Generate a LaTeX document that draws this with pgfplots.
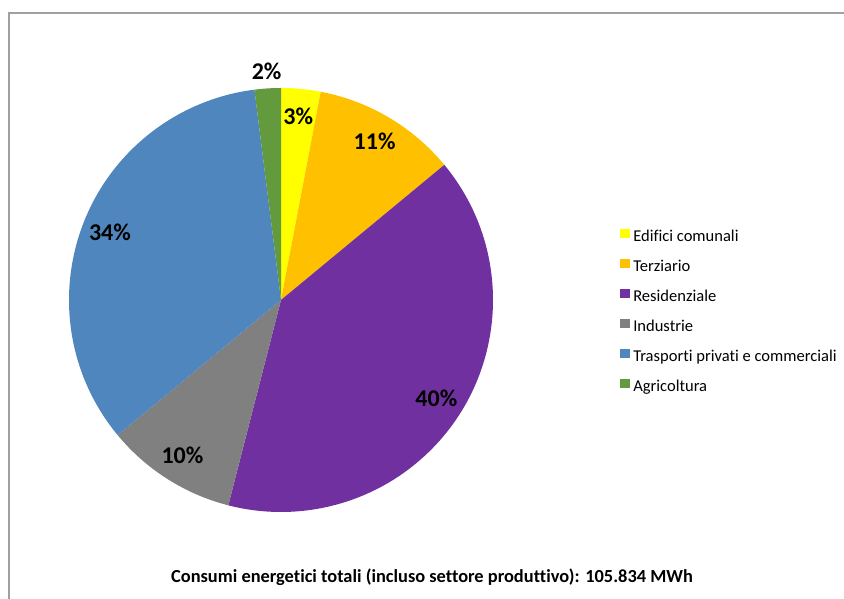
\documentclass[border=0pt]{standalone}
\usepackage{pgfplots}
\pgfplotsset{compat=1.18}
\usepackage{pgfplotstable}
\usepackage{fontspec}
\setmainfont{Carlito}[Ligatures=NoCommon]

% slice colours
\definecolor{c0}{HTML}{FFFF00}
\definecolor{c1}{HTML}{FFC000}
\definecolor{c2}{HTML}{7030A0}
\definecolor{c3}{HTML}{808080}
\definecolor{c4}{HTML}{4F86BD}
\definecolor{c5}{HTML}{649A3E}
\definecolor{framegray}{HTML}{A0A0A0}

% share of total consumption, per sector (%)
\pgfplotstableread[col sep=comma]{
sector,share
Edifici comunali,3
Terziario,11
Residenziale,40
Industrie,10
Trasporti privati e commerciali,34
Agricoltura,2
}\consumi

\newcommand\labelfont{\bfseries\fontsize{18}{21}\selectfont}

\begin{document}
\begin{tikzpicture}
\begin{axis}[
  name=ax,
  x=0.75pt, y=0.75pt,
  xmin=0, xmax=844, ymin=0, ymax=599,
  hide axis, clip=false,
  legend cell align=left,
  legend image code/.code={\fill[#1] (0pt,-0.2pt) rectangle (6.75pt,5.8pt);},
  legend style={at={(axis description cs:0.7346,0.6177)}, anchor=north west,
    draw=none, fill=none, inner sep=0pt, row sep=10.5pt,
    font=\fontsize{12.4}{15}\selectfont,
    nodes={inner xsep=2.6pt, inner ysep=0pt, text height=9pt, text depth=3pt}},
]
% chart frame
\draw[framegray, line width=0.8pt] (axis cs:9,0) -- (axis cs:9,586) -- (axis cs:844,586);

% wedges, clockwise from 12 o'clock
\def\cum{0}
\pgfplotsforeachungrouped \i in {0,...,5}{%
  \pgfplotstablegetelem{\i}{share}\of\consumi
  \let\val\pgfplotsretval
  \pgfplotstablegetelem{\i}{sector}\of\consumi
  \let\nome\pgfplotsretval
  \pgfmathsetmacro\a{90-3.6*\cum}%
  \pgfmathsetmacro\b{\a-3.6*\val}%
  \edef\temp{%
    \noexpand\fill[c\i] (axis cs:281,299) -- ++(\a:159pt)
      arc[start angle=\a, end angle=\b, radius=159pt] -- cycle;
    \noexpand\addlegendimage{c\i}
    \noexpand\addlegendentry{\nome}
  }%
  \temp
  \pgfmathsetmacro\cum{\cum+\val}%
}

% percentage labels
\def\cum{0}
\pgfplotsforeachungrouped \i in {0,...,5}{%
  \pgfplotstablegetelem{\i}{share}\of\consumi
  \let\val\pgfplotsretval
  \pgfmathsetmacro\m{90-3.6*(\cum+\val/2)}%
  \pgfmathsetmacro\rl{\val<2.5 ? 172 : 138}%
  \edef\temp{%
    \noexpand\path (axis cs:281,299) ++(\m:\rl pt)
      node[font=\noexpand\labelfont] {\val\noexpand\%};
  }%
  \temp
  \pgfmathsetmacro\cum{\cum+\val}%
}

\node[font=\bfseries\fontsize{13.8}{16}\selectfont] at (axis cs:432,22)
  {Consumi energetici totali (incluso settore produttivo): 105.834 MWh};
\end{axis}
\pgfresetboundingbox
\useasboundingbox (ax.south west) rectangle (ax.north east);
\end{tikzpicture}
\end{document}
